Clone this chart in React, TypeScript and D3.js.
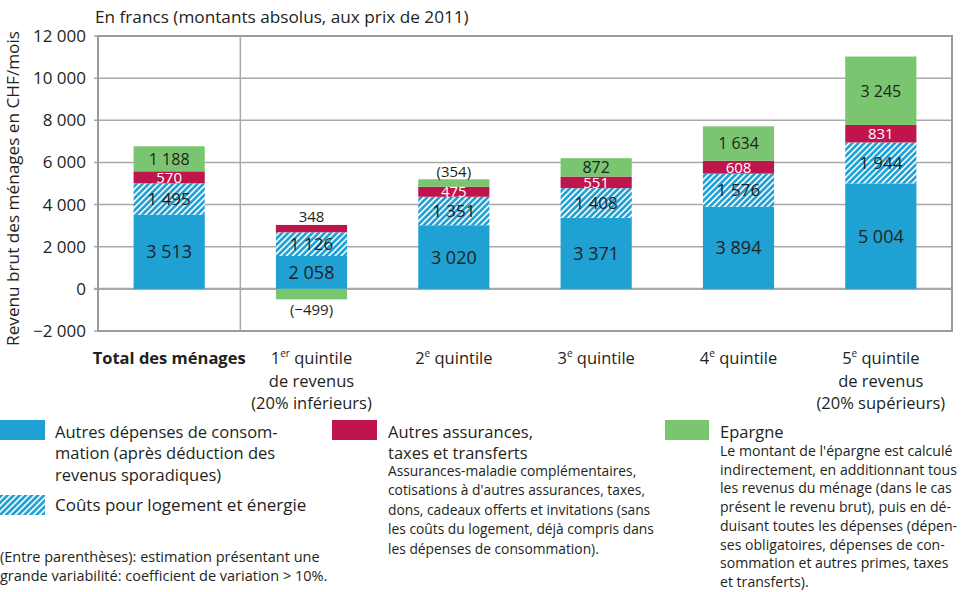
import React from 'react';
import * as d3 from 'd3';

// categories (one bar each)
const categories = ['total', 'q1', 'q2', 'q3', 'q4', 'q5'];

// label lines under each bar: [text, superscript, rest]
const categoryLabels: [string, string, string][][] = [
  [['Total des ménages', '', '']],
  [['1', 'er', ' quintile'], ['de revenus', '', ''], ['(20% inférieurs)', '', '']],
  [['2', 'e', ' quintile']],
  [['3', 'e', ' quintile']],
  [['4', 'e', ' quintile']],
  [['5', 'e', ' quintile'], ['de revenus', '', ''], ['(20% supérieurs)', '', '']],
];

// series values, CHF per month
const autresDepenses = [3513, 2058, 3020, 3371, 3894, 5004];
const logementEnergie = [1495, 1126, 1351, 1408, 1576, 1944];
const autresAssurances = [570, 348, 475, 551, 608, 831];
const epargne = [1188, -499, 354, 872, 1634, 3245];
// estimates with large variability -> shown in parentheses
const epargneIncertain = [false, true, true, false, false, false];

const yDomain = [-2000, 12000];

const BLUE = '#1fa1d3';
const RED = '#c0154c';
const GREEN = '#7ac56f';
const GRID = '#a9a9ab';
const TEXT = '#231f20';
const FONT = '"Open Sans", sans-serif';

const locale = d3.formatLocale({ decimal: '.', thousands: ' ', grouping: [3], currency: ['', ''] });
const fmt = locale.format(',');

const W = 966;
const H = 592;
const left = 98;
const right = 952;
const top = 36;
const bottom = 331;

const App: React.FC = () => {
  const x = d3.scaleBand<string>().domain(categories).range([left, right]).paddingInner(0.5).paddingOuter(0.25);
  const y = d3.scaleLinear().domain(yDomain).range([bottom, top]);
  const ticks = d3.range(yDomain[0], yDomain[1] + 1, 2000);
  const bw = x.bandwidth();
  const sepX = (x(categories[1]) as number) - (x.step() * 0.5) / 2;

  const bars = categories.map((c, i) => {
    // negative savings: the expense stack starts below zero, savings bar covers it
    const b0 = Math.min(0, epargne[i]);
    const b1 = b0 + autresDepenses[i];
    const h1 = b1 + logementEnergie[i];
    const r1 = h1 + autresAssurances[i];
    const g0 = epargne[i] >= 0 ? r1 : 0;
    const g1 = epargne[i] >= 0 ? r1 + epargne[i] : epargne[i];
    return { c, i, segs: [
      { key: 'blue', lo: Math.max(b0, 0), hi: b1, fill: BLUE, v: autresDepenses[i], size: 18, color: TEXT },
      { key: 'hatch', lo: b1, hi: h1, fill: 'url(#hatch)', v: logementEnergie[i], size: 17, color: TEXT },
      { key: 'red', lo: h1, hi: r1, fill: RED, v: autresAssurances[i], size: 15, color: '#fff' },
      { key: 'green', lo: Math.min(g0, g1), hi: Math.max(g0, g1), fill: GREEN, v: epargne[i], size: 16, color: TEXT },
    ] };
  });

  return (
    <svg width={W} height={H} style={{ display: 'block', fontFamily: FONT }}>
      <style>{'body{margin:0}'}</style>
      <defs>
        <pattern id="hatch" patternUnits="userSpaceOnUse" width={4.3} height={4.3} patternTransform="rotate(45)">
          <rect width={4.3} height={4.3} fill={BLUE} />
          <line x1={0.8} y1={0} x2={0.8} y2={4.3} stroke="#fff" strokeWidth={1.6} />
        </pattern>
      </defs>

      <text x={95} y={23} fontSize={17.2} fill={TEXT}>En francs (montants absolus, aux prix de 2011)</text>
      <text transform={`translate(19,${(top + bottom) / 2 + 5}) rotate(-90)`} textAnchor="middle" fontSize={17.2} fill={TEXT}>
        Revenu brut des ménages en CHF/mois
      </text>

      {/* grid + ticks */}
      {ticks.map((t) => (
        <g key={t}>
          <line x1={left - 4} x2={right} y1={y(t)} y2={y(t)} stroke={GRID} strokeWidth={t === 0 ? 2.2 : 1.5} />
          <text x={86} y={y(t)} dy="0.35em" textAnchor="end" fontSize={17} fill={TEXT}>{fmt(t)}</text>
        </g>
      ))}
      <rect x={left} y={top} width={right - left} height={bottom - top} fill="none" stroke="#9b9b9d" strokeWidth={2} />
      <line x1={sepX} x2={sepX} y1={top} y2={bottom} stroke={GRID} strokeWidth={1.5} />

      {/* bars */}
      {bars.map((b) => (
        <g key={b.c}>
          {b.segs.map((s) => (
            <rect key={s.key} x={x(b.c)} width={bw} y={y(s.hi)} height={y(s.lo) - y(s.hi)} fill={s.fill} />
          ))}
        </g>
      ))}
      {bars.map((b) => {
        const cx = (x(b.c) as number) + bw / 2;
        const stackTop = Math.max(...b.segs.map((s) => s.hi));
        return (
          <g key={b.c + '-lab'} textAnchor="middle">
            {b.segs.map((s) => {
              const hPx = y(s.lo) - y(s.hi);
              const txt = s.key === 'green' && epargneIncertain[b.i] ? `(${fmt(s.v)})` : fmt(s.v);
              let ly = (y(s.lo) + y(s.hi)) / 2;
              let col = s.color;
              let fs = s.size;
              if (s.v < 0) {
                ly = y(s.lo) + 10;
                col = TEXT;
                fs = 15;
              } else if (hPx < 9) {
                ly = y(stackTop) - 8;
                col = TEXT;
                fs = 15;
              }
              return (
                <text key={s.key} x={cx} y={ly} dy="0.36em" fontSize={fs} fill={col}>{txt}</text>
              );
            })}
          </g>
        );
      })}

      {/* category labels */}
      {categories.map((c, i) => {
        const cx = (x(c) as number) + bw / 2;
        return (
          <text key={c + '-x'} x={cx} textAnchor="middle" fontSize={16.5} fill={TEXT} fontWeight={i === 0 ? 'bold' : 'normal'}>
            {categoryLabels[i].map((ln, j) => (
              <tspan key={j} x={cx} y={364 + j * 22.5}>
                {ln[0]}
                {ln[1] && <tspan fontSize={10} dy={-7}>{ln[1]}</tspan>}
                {ln[1] ? <tspan dy={7}>{ln[2]}</tspan> : ln[2]}
              </tspan>
            ))}
          </text>
        );
      })}

      {/* legend */}
      <g fill={TEXT}>
        <rect x={0} y={420} width={45} height={20} fill={BLUE} />
        <text x={55} fontSize={16.5}>
          <tspan x={55} y={437.5}>Autres dépenses de consom-</tspan>
          <tspan x={55} y={459}>mation (après déduction des</tspan>
          <tspan x={55} y={480.5}>revenus sporadiques)</tspan>
        </text>
        <rect x={0} y={495} width={45} height={20} fill="url(#hatch)" />
        <text x={55} y={511} fontSize={17}>Coûts pour logement et énergie</text>
        <text fontSize={14.5}>
          <tspan x={0} y={561.5}>(Entre parenthèses): estimation présentant une</tspan>
          <tspan x={0} y={580.5}>grande variabilité: coefficient de variation &gt; 10%.</tspan>
        </text>

        <rect x={332} y={420} width={45} height={20} fill={RED} />
        <text fontSize={16.5}>
          <tspan x={388} y={437.5}>Autres assurances,</tspan>
          <tspan x={388} y={459}>taxes et transferts</tspan>
        </text>
        <text fontSize={13.8}>
          {['Assurances-maladie complémentaires,', "cotisations à d'autres assurances, taxes,", 'dons, cadeaux offerts et invitations (sans', 'les coûts du logement, déjà compris dans', 'les dépenses de consommation).'].map((l, k) => (
            <tspan key={k} x={388} y={476 + k * 19.4}>{l}</tspan>
          ))}
        </text>

        <rect x={665} y={420} width={44} height={20} fill={GREEN} />
        <text x={720} y={437.5} fontSize={16.5}>Epargne</text>
        <text fontSize={14.1}>
          {["Le montant de l'épargne est calculé", 'indirectement, en additionnant tous', 'les revenus du ménage (dans le cas', 'présent le revenu brut), puis en dé-', 'duisant toutes les dépenses (dépen-', 'ses obligatoires, dépenses de con-', 'sommation et autres primes, taxes', 'et transferts).'].map((l, k) => (
            <tspan key={k} x={720} y={456 + k * 18.7}>{l}</tspan>
          ))}
        </text>
      </g>
    </svg>
  );
};

export default App;
